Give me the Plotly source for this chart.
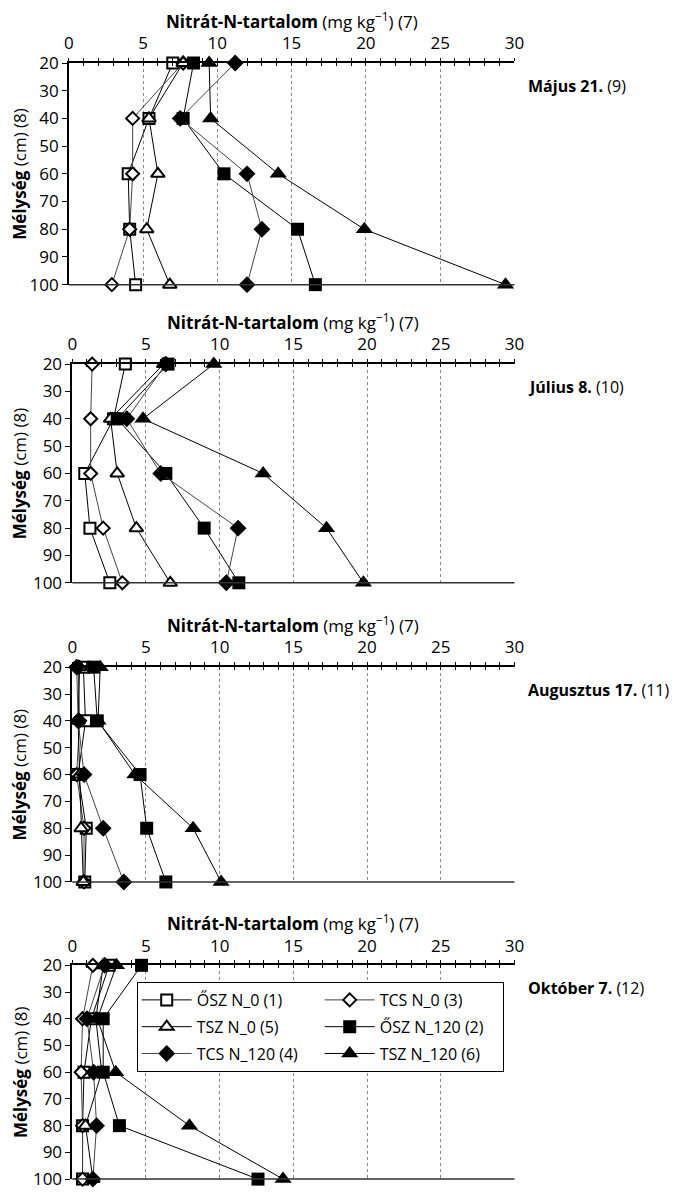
import plotly.graph_objects as go

# Sampling depths (cm) and depth axis ticks
depth = [20, 40, 60, 80, 100]
depth_ticks = [20, 30, 40, 50, 60, 70, 80, 90, 100]
nitrate_ticks = [0, 5, 10, 15, 20, 25, 30]

series_names = ["ŐSZ N_0 (1)", "TCS N_0 (3)", "TSZ N_0 (5)",
                "ŐSZ N_120 (2)", "TCS N_120 (4)", "TSZ N_120 (6)"]

# Nitrate-N content (mg/kg) at 20, 40, 60, 80, 100 cm
majus_osz_n0 = [7.0, 5.4, 4.0, 4.1, 4.5]
majus_tcs_n0 = [7.7, 4.3, 4.3, 4.1, 2.9]
majus_tsz_n0 = [7.7, 5.4, 6.0, 5.25, 6.8]
majus_osz_n120 = [8.4, 7.7, 10.45, 15.4, 16.6]
majus_tcs_n120 = [11.2, 7.5, 12.0, 13.0, 12.0]
majus_tsz_n120 = [9.45, 9.55, 14.1, 19.9, 29.4]

julius_osz_n0 = [3.6, 2.8, 0.85, 1.2, 2.55]
julius_tcs_n0 = [1.35, 1.25, 1.25, 2.1, 3.4]
julius_tsz_n0 = [6.2, 2.6, 3.05, 4.35, 6.65]
julius_osz_n120 = [6.5, 3.05, 6.35, 8.95, 11.3]
julius_tcs_n120 = [6.35, 3.7, 6.0, 11.25, 10.45]
julius_tsz_n120 = [9.6, 4.8, 12.95, 17.25, 19.75]

augusztus_osz_n0 = [0.75, 0.9, 0.4, 0.95, 0.85]
augusztus_tcs_n0 = [0.4, 0.5, 0.3, 0.8, 0.8]
augusztus_tsz_n0 = [0.5, 0.4, 0.5, 0.6, 0.75]
augusztus_osz_n120 = [1.45, 1.7, 4.6, 5.05, 6.35]
augusztus_tcs_n120 = [0.3, 0.4, 0.8, 2.1, 3.5]
augusztus_tsz_n120 = [1.9, 1.75, 4.25, 8.2, 10.1]

oktober_osz_n0 = [2.5, 1.3, 0.8, 0.7, 0.7]
oktober_tcs_n0 = [1.4, 0.7, 0.6, 0.7, 0.7]
oktober_tsz_n0 = [2.1, 1.6, 2.0, 0.9, 1.4]
oktober_osz_n120 = [4.7, 2.1, 2.1, 3.2, 12.6]
oktober_tcs_n120 = [2.2, 1.0, 1.45, 1.65, 1.4]
oktober_tsz_n120 = [3.0, 1.7, 2.95, 7.95, 14.3]

dates = ["<b>Május 21.</b> (9)", "<b>Július 8.</b> (10)",
         "<b>Augusztus 17.</b> (11)", "<b>Október 7.</b> (12)"]

panels = [
    [majus_osz_n0, majus_tcs_n0, majus_tsz_n0, majus_osz_n120, majus_tcs_n120, majus_tsz_n120],
    [julius_osz_n0, julius_tcs_n0, julius_tsz_n0, julius_osz_n120, julius_tcs_n120, julius_tsz_n120],
    [augusztus_osz_n0, augusztus_tcs_n0, augusztus_tsz_n0, augusztus_osz_n120, augusztus_tcs_n120, augusztus_tsz_n120],
    [oktober_osz_n0, oktober_tcs_n0, oktober_tsz_n0, oktober_osz_n120, oktober_tcs_n120, oktober_tsz_n120],
]

# Marker / line style for each series
styles = [
    dict(symbol="square", fill="white", size=11, lw=2.0, line="black"),
    dict(symbol="diamond", fill="white", size=10, lw=2.0, line="#444"),
    dict(symbol="triangle-up", fill="white", size=12, lw=2.0, line="black"),
    dict(symbol="square", fill="black", size=13, lw=0, line="black"),
    dict(symbol="diamond", fill="black", size=13, lw=0, line="#444"),
    dict(symbol="triangle-up", fill="black", size=15, lw=0, line="black"),
]

W, H = 678, 1196
R_MARGIN = 163
PW = W - R_MARGIN

# Pixel frames of the four panels: (left, right, top, bottom)
frames = [
    (64.4, 514.4, 52, 278),
    (67.9, 514.5, 359, 582),
    (67.9, 514.5, 668, 887),
    (67.9, 514.5, 972, 1190),
]

FONT = "Open Sans"
fig = go.Figure()
annotations = []
shapes = []

for i, (vals, (l, r, t, b)) in enumerate(zip(panels, frames)):
    n = i + 1
    xa = "x" if n == 1 else f"x{n}"
    ya = "y" if n == 1 else f"y{n}"
    for name, xs, st in zip(series_names, vals, styles):
        fig.add_trace(go.Scatter(
            x=xs, y=depth, xaxis=xa, yaxis=ya, name=name,
            mode="lines+markers", cliponaxis=False,
            showlegend=(n == 4), legendgroup=name,
            line=dict(color=st["line"], width=1),
            marker=dict(symbol=st["symbol"], size=st["size"], color=st["fill"],
                        line=dict(color="black", width=st["lw"])),
            hoverinfo="skip",
        ))
    # overlay axis giving the top axis ticks that cross the line
    ox = f"x{n + 4}"
    fig.add_trace(go.Scatter(x=[], y=[], xaxis=ox, yaxis=ya, showlegend=False,
                             hoverinfo="skip"))

    xdom = [l / PW, r / PW]
    ydom = [1 - b / H, 1 - t / H]
    xkey = "xaxis" if n == 1 else f"xaxis{n}"
    ykey = "yaxis" if n == 1 else f"yaxis{n}"
    fig.update_layout({
        xkey: dict(domain=xdom, anchor=ya, side="top", range=[0, 30],
                   tickvals=nitrate_ticks, ticks="outside", ticklen=3,
                   tickwidth=1, tickcolor="black", ticklabelstandoff=2,
                   minor=dict(dtick=1, tick0=0, ticks="outside", ticklen=3,
                              tickwidth=1, tickcolor="black", showgrid=False),
                   showline=True, linecolor="black", linewidth=2,
                   showgrid=True, gridcolor="#8a8a8a", griddash="dot", gridwidth=1,
                   zeroline=False,
                   tickfont=dict(family=FONT, size=17, color="black")),
        f"xaxis{n + 4}": dict(overlaying=xa, anchor=ya, side="top", range=[0, 30],
                              tickvals=nitrate_ticks, ticks="inside", ticklen=3,
                              tickwidth=1, tickcolor="black",
                              minor=dict(dtick=1, tick0=0, ticks="inside", ticklen=3,
                                         tickwidth=1, tickcolor="black", showgrid=False),
                              showticklabels=False, showline=False, showgrid=False,
                              zeroline=False),
        ykey: dict(domain=ydom, anchor=xa, range=[100, 20], tickvals=depth_ticks,
                   ticks="outside", ticklen=5, tickwidth=1, tickcolor="black",
                   showline=True, linecolor="black", linewidth=1.5,
                   showgrid=False, zeroline=False,
                   tickfont=dict(family=FONT, size=17, color="black")),
    })
    # bottom frame line at 100 cm
    shapes.append(dict(type="line", xref=f"{xa} domain", yref=f"{ya} domain",
                       x0=0, x1=1, y0=0, y1=0,
                       line=dict(color="#333", width=1.5)))
    # x axis title above tick labels
    annotations.append(dict(
        text="<b>Nitrát-N-tartalom</b> (mg kg<sup>−1</sup>) (7)",
        xref="paper", yref="paper", x=(l + r) / 2 / PW, y=1 - (t - 29) / H,
        xanchor="center", yanchor="bottom", showarrow=False,
        font=dict(family=FONT, size=17, color="black")))
    # depth axis title
    annotations.append(dict(
        text="<b>Mélység</b> (cm) (8)", textangle=-90,
        xref="paper", yref="paper", x=15 / PW, y=1 - (t + b) / 2 / H,
        xanchor="center", yanchor="middle", showarrow=False,
        font=dict(family=FONT, size=17, color="black")))
    # sampling date
    annotations.append(dict(
        text=dates[i], xref="paper", yref="paper",
        x=526 / PW, y=1 - (t + 23) / H, xanchor="left", yanchor="middle",
        showarrow=False, font=dict(family=FONT, size=16, color="black")))

fig.update_layout(
    width=W, height=H,
    margin=dict(l=0, r=R_MARGIN, t=0, b=0),
    paper_bgcolor="white", plot_bgcolor="white",
    annotations=annotations, shapes=shapes,
    legend=dict(orientation="h", x=133 / PW, y=1 - 989 / H,
                xanchor="left", yanchor="top",
                entrywidth=118, itemwidth=50, tracegroupgap=3,
                bgcolor="white", bordercolor="black", borderwidth=1,
                font=dict(family=FONT, size=16, color="black")),
    showlegend=True,
)

fig.write_html("out.html")
